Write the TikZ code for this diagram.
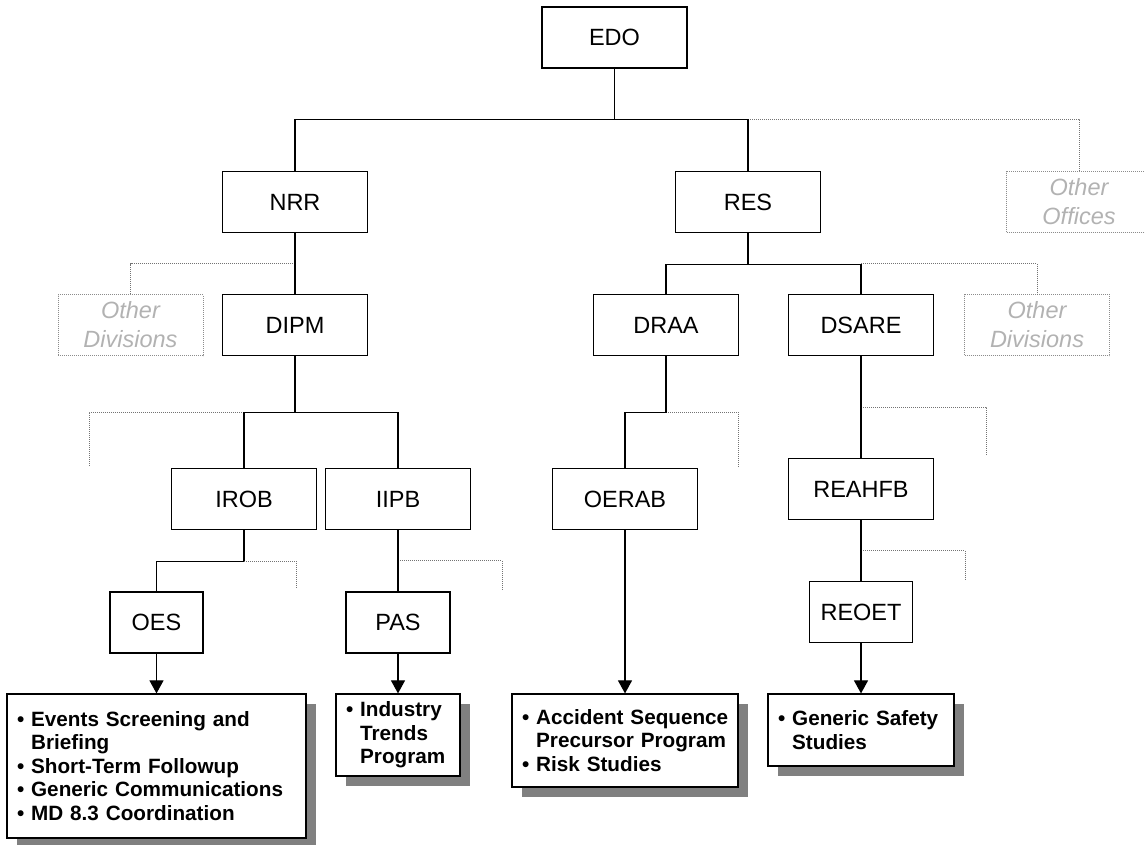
\documentclass[tikz,border=0pt]{standalone}
\usepackage{fontspec}
\setmainfont{Liberation Sans}
\usetikzlibrary{calc, shapes, arrows.meta, shadows}

\begin{document}
\begin{tikzpicture}[x=1pt, y=-1pt,
		unit/.style={draw=black, line width=1.2pt, fill=white, minimum width=145pt, minimum height=61pt, inner sep=0pt, font=\unitfont},
		other/.style={draw=black!45, line width=1pt, dash pattern=on 1pt off 1pt, minimum width=145pt, minimum height=61pt, inner sep=0pt, align=center, text=black!30, font=\otherfont},
		tasks/.style={draw=black, line width=1.2pt, fill=white, inner xsep=10pt, inner ysep=0pt, align=left, font=\taskfont,
			drop shadow={shadow xshift=10pt, shadow yshift=-10pt, fill=black!50, opacity=1}},
		link/.style={draw=black, line width=1.1pt},
		otherlink/.style={draw=black!55, line width=1pt, dash pattern=on 1pt off 1pt},
		flow/.style={link, -{Triangle[length=13pt, width=14pt]}}]
				\newcommand{\unitfont}{\fontsize{23.5}{28}\selectfont}
				\newcommand{\otherfont}{\fontsize{23.5}{29}\selectfont\itshape}
				\newcommand{\taskfont}{\fontsize{20.7}{23.6}\selectfont\bfseries}
				\newcommand{\bul}[1]{\mbox{\textbullet\ #1}}
				\newcommand{\cont}[1]{\mbox{\hphantom{\textbullet\ }#1}}
				\useasboundingbox (0,0) rectangle (1145,844);
				%Offices
				\node[unit] (edo) at (614.5,37.5) {EDO};
				\node[unit] (nrr) at (295,202) {NRR};
				\node[unit] (res) at (748,202) {RES};
				\node[other] (offices) at (1079,202) {Other\\Offices};
				%Divisions
				\node[other] (divleft) at (130.5,325) {Other\\Divisions};
				\node[unit] (dipm) at (295,325) {DIPM};
				\node[unit] (draa) at (666,325) {DRAA};
				\node[unit] (dsare) at (861,325) {DSARE};
				\node[other] (divright) at (1037,325) {Other\\Divisions};
				%Branches
				\node[unit] (irob) at (244,499) {IROB};
				\node[unit] (iipb) at (398,499) {IIPB};
				\node[unit] (oerab) at (625,499) {OERAB};
				\node[unit] (reahfb) at (861,489) {REAHFB};
				%Sections
				\node[unit, minimum width=93pt] (oes) at (156.5,622.5) {OES};
				\node[unit, minimum width=104pt] (pas) at (398,622.5) {PAS};
				\node[unit, minimum width=103pt] (reoet) at (861,612) {REOET};
				%Task lists
				\node[tasks, text width=279pt, minimum height=144pt] (oestasks) at (156.5,766)
					{\bul{Events Screening and}\\\cont{Briefing}\\\bul{Short-Term Followup}\\\bul{Generic Communications}\\\bul{MD 8.3 Coordination}};
				\node[tasks, text width=104pt, minimum height=82pt] (pastasks) at (398,735)
					{\bul{Industry}\\\cont{Trends}\\\cont{Program}};
				\node[tasks, text width=206pt, minimum height=93pt] (oerabtasks) at (625,740.5)
					{\bul{Accident Sequence}\\\cont{Precursor Program}\\\bul{Risk Studies}};
				\node[tasks, text width=166pt, minimum height=72pt] (reoettasks) at (861,730)
					{\bul{Generic Safety}\\\cont{Studies}};
				%EDO to the offices
				\draw[otherlink] (res.north |- 0,119) -| (offices.north);
				\draw[link] (edo.south) -- ++(0,51) coordinate (edobus);
				\draw[link] (nrr.north) |- (edobus) -| (res.north);
				%NRR to DIPM
				\draw[otherlink] ($(nrr.south)!.5!(dipm.north)$) -| (divleft.north);
				\draw[link] (nrr) -- (dipm);
				%RES to DRAA and DSARE
				\draw[otherlink] (dsare.north |- 0,263.5) -| (divright.north);
				\draw[link] (res.south) -- ++(0,31.5) coordinate (resbus);
				\draw[link] (draa.north) |- (resbus) -| (dsare.north);
				%DIPM to IROB and IIPB
				\coordinate (dipmend) at (89,467);
				\draw[otherlink] (irob.north |- 0,412) -| (dipmend);
				\draw[link] (dipm.south) -- ++(0,56) coordinate (dipmbus);
				\draw[link] (irob.north) |- (dipmbus) -| (iipb.north);
				%IROB to OES
				\coordinate (irobend) at (296,589);
				\draw[otherlink] (irob.south |- 0,561) -| (irobend);
				\draw[link] (irob.south) -- ++(0,31) coordinate (irobbus);
				\draw[link] (irobbus) -| (oes.north);
				%IIPB to PAS
				\coordinate (iipbend) at (502,589);
				\draw[otherlink] ($(iipb.south)!.5!(pas.north)$) -| (iipbend);
				\draw[link] (iipb) -- (pas);
				%DRAA to OERAB
				\coordinate (draaend) at (738,467);
				\draw[otherlink] (draa.south |- 0,412) -| (draaend);
				\draw[link] (draa.south) -- ++(0,56.5) coordinate (draabus);
				\draw[link] (draabus) -| (oerab.north);
				%DSARE to REAHFB
				\coordinate (dsareend) at (986,456);
				\draw[otherlink] ($(dsare.south)!.5!(reahfb.north)$) -| (dsareend);
				\draw[link] (dsare) -- (reahfb);
				%REAHFB to REOET
				\coordinate (reahfbend) at (965,579);
				\draw[otherlink] ($(reahfb.south)!.5!(reoet.north)$) -| (reahfbend);
				\draw[link] (reahfb) -- (reoet);
				%Sections to their tasks
				\draw[flow] (oes) -- (oestasks);
				\draw[flow] (pas) -- (pastasks);
				\draw[flow] (oerab) -- (oerabtasks);
				\draw[flow] (reoet) -- (reoettasks);
\end{tikzpicture}
\end{document}
